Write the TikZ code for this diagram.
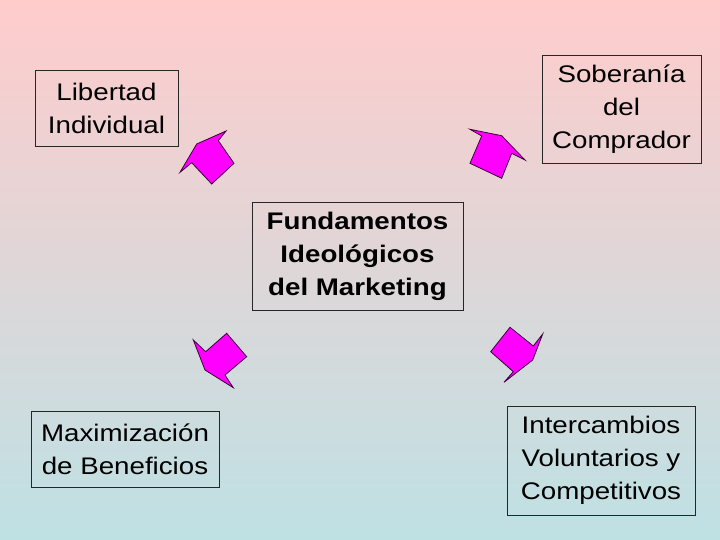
\documentclass[tikz,border=0pt]{standalone}
\usepackage{fontspec}
\setmainfont[FakeStretch=1.155]{Liberation Sans}
\definecolor{bgtop}{RGB}{255,204,204}
\definecolor{bgbot}{RGB}{190,225,228}
\definecolor{arrfill}{RGB}{255,0,255}
\definecolor{arrline}{RGB}{60,0,60}
\begin{document}
\begin{tikzpicture}[x=1pt,y=-1pt,
  lbl/.style={draw=black!85,line width=0.8pt,align=center,inner sep=0pt,
    font=\fontsize{24}{33}\selectfont},
  blockarrow/.style={fill=arrfill,draw=arrline,line width=0.8pt,line join=miter}]
\shade[top color=bgtop,bottom color=bgbot] (0,0) rectangle (720,540);
\useasboundingbox (0,0) rectangle (720,540);
\node[lbl,minimum width=143pt,minimum height=76pt] (lib) at (106.5,108.5) {Libertad\\Individual};
\node[lbl,minimum width=159pt,minimum height=108pt] (sob) at (621.5,109) {Soberanía\\del\\Comprador};
\node[lbl,minimum width=211pt,minimum height=108pt,font=\fontsize{24}{33}\selectfont\bfseries] (fun) at (357.5,256) {Fundamentos\\Ideológicos\\del Marketing};
\node[lbl,minimum width=188pt,minimum height=76pt] (max) at (125,449) {Maximización\\de Beneficios};
\node[lbl,minimum width=188pt,minimum height=109pt] (int) at (601,460.5) {Intercambios\\Voluntarios y\\Competitivos};
% block arrows
\draw[blockarrow] (226,131) -- (196.7,144) -- (180,172.3) -- (191.7,162.7) -- (211.7,184) -- (234,163.3) -- (218.3,140.7) -- cycle;
\draw[blockarrow] (470,129.3) -- (501.7,135.7) -- (525,160) -- (511.7,153.3) -- (501.7,178.3) -- (470,163.3) -- (481.7,136) -- cycle;
\draw[blockarrow] (193.3,340) -- (205,370) -- (233.3,387.7) -- (225,375) -- (246.7,356.7) -- (226.7,333.3) -- (205.7,351.7) -- cycle;
\draw[blockarrow] (542.7,334) -- (532.7,360) -- (504,382.3) -- (513.3,371.7) -- (490.7,351.7) -- (510,327.3) -- (533.3,346) -- cycle;
\end{tikzpicture}
\end{document}
